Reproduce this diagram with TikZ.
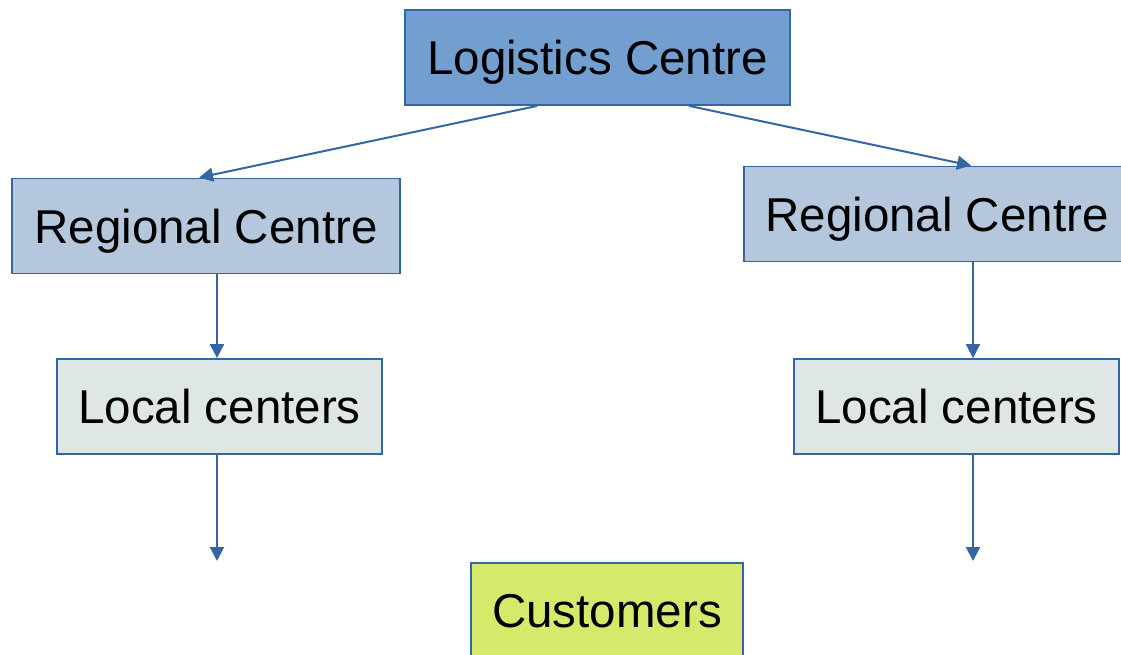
\documentclass[tikz,border=0pt]{standalone}
\usepackage{fontspec}
\setmainfont{Liberation Sans}
\usetikzlibrary{arrows.meta,calc}
\definecolor{edgeblue}{RGB}{52,101,164}
\definecolor{topfill}{RGB}{114,159,207}
\definecolor{regfill}{RGB}{180,199,220}
\definecolor{locfill}{RGB}{222,230,230}
\definecolor{custfill}{RGB}{212,234,107}
\begin{document}
\begin{tikzpicture}[x=1pt,y=-1pt,
  box/.style={rectangle, draw=edgeblue, line width=1.8pt, inner sep=0pt,
    minimum height=95pt, text height=34pt, text depth=0pt,
    font=\fontsize{47.5}{57}\selectfont},
  link/.style={draw=edgeblue, line width=2pt,
    -{Triangle[length=14pt,width=14pt]}}]
\useasboundingbox (0,0) rectangle (1121,655);
% hierarchy of centres
\node[box, fill=topfill,  minimum width=385pt] (logi) at (597.5,57.5) {Logistics Centre};
\node[box, fill=regfill,  minimum width=388pt] (regL) at (206,226)    {Regional Centre};
\node[box, fill=regfill,  minimum width=386pt] (regR) at (937,214)    {Regional Centre};
\node[box, fill=locfill,  minimum width=325pt] (locL) at (219.5,406.5) {Local centers};
\node[box, fill=locfill,  minimum width=325pt] (locR) at (956.5,406.5) {Local centers};
\node[box, fill=custfill, minimum width=272pt] (cust) at (607,610.5)  {Customers};
% open ends of the last arrows
\coordinate (endL) at (217,561);
\coordinate (endR) at (973,561);
% flows
\draw[link] ($(logi.south west)+(133,0)$) -- ($(regL.north west)+(188,0)$);
\draw[link] ($(logi.south west)+(285,0)$) -- ($(regR.north west)+(228,0)$);
\draw[link] (regL.south -| endL) -- (locL.north -| endL);
\draw[link] (regR.south -| endR) -- (locR.north -| endR);
\draw[link] (locL.south -| endL) -- (endL);
\draw[link] (locR.south -| endR) -- (endR);
\end{tikzpicture}
\end{document}
